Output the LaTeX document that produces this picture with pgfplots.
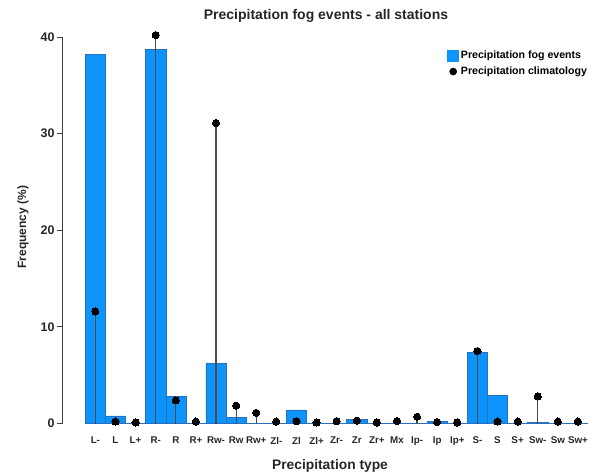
\documentclass[border=0pt]{standalone}
\usepackage{pgfplots}
\pgfplotsset{compat=1.18}
\usepackage{fontspec}
\setmainfont{Liberation Sans}
\definecolor{barblue}{RGB}{12,148,250}
\definecolor{baredge}{RGB}{40,112,190}
\definecolor{stemgray}{RGB}{75,75,75}
\definecolor{basegray}{RGB}{175,175,175}
\begin{document}
\begin{tikzpicture}[x=1pt,y=1pt]
\path[use as bounding box] (0,0) rectangle (597,475);
\begin{axis}[
  at={(62pt,51.5pt)}, anchor=south west,
  scale only axis, width=528pt, height=386.5pt,
  xmin=-1.66, xmax=24.6, ymin=0, ymax=40,
  axis lines=left, axis line style={-, line width=0.8pt, black!75},
  x axis line style={draw=none},
  clip=false,
  xtick={0,...,24},
  xticklabels={L-,L,L+,R-,R,R+,Rw-,Rw,Rw+,Zl-,Zl,Zl+,Zr-,Zr,Zr+,Mx,Ip-,Ip,Ip+,S-,S,S+,Sw-,Sw,Sw+},
  x tick style={draw=none},
  x tick label style={font=\bfseries\fontsize{9.8}{10}\selectfont, yshift=-5pt, text=black!85},
  ytick={0,10,20,30,40},
  y tick style={black!75, line width=0.8pt},
  tick align=outside, major tick length=5pt,
  y tick label style={font=\bfseries\fontsize{12.5}{13}\selectfont, xshift=1pt, text=black!85},
  /pgf/number format/assume math mode=true,
  title={Precipitation fog events - all stations},
  title style={at={(axis description cs:0.5,1.039)}, anchor=center, font=\bfseries\fontsize{14}{15}\selectfont, text=black!85},
  xlabel={Precipitation type},
  xlabel style={at={(axis description cs:0.5076,-0.11)}, anchor=center, font=\bfseries\fontsize{13.8}{15}\selectfont, text=black!85},
  ylabel={Frequency (\%)},
  ylabel style={at={(axis description cs:-0.0739,0.508)}, anchor=center, font=\bfseries\fontsize{12}{13}\selectfont, text=black!85},
  legend style={at={(axis cs:17.5,38.8)}, anchor=north west, draw=none, fill=none,
    font=\bfseries\fontsize{10.6}{12}\selectfont, row sep=3pt, inner sep=0pt,
    /tikz/every even column/.append style={column sep=4pt}},
  legend cell align=left,
]
\draw[basegray, line width=0.9pt] (axis cs:-0.5,0) -- (axis cs:24.5,0);
\addplot[ybar, bar width=1, fill=barblue, draw=baredge, line width=0.5pt,
  legend image code/.code={\fill[barblue] (0pt,-5.5pt) rectangle (11pt,5.5pt);}]
  coordinates {
  (0,38.2) (1,0.8) (2,0) (3,38.7) (4,2.8) (5,0) (6,6.2) (7,0.65) (8,0)
  (9,0) (10,1.4) (11,0) (12,0) (13,0.4) (14,0) (15,0) (16,0) (17,0.25)
  (18,0) (19,7.4) (20,2.9) (21,0) (22,0.12) (23,0) (24,0)
  };
\addlegendentry{Precipitation fog events}
\addplot[ycomb, draw=stemgray, line width=1.2pt,
  mark=*, mark size=3.6pt, mark options={fill=black, draw=black, line width=0pt},
  legend image code/.code={\fill[black] (5.5pt,0pt) circle (3.2pt);}]
  coordinates {
  (0,11.6) (1,0.2) (2,0.1) (3,40.2) (4,2.4) (5,0.2) (6,31.1) (7,1.85) (8,1.1)
  (9,0.2) (10,0.25) (11,0.1) (12,0.25) (13,0.3) (14,0.1) (15,0.25) (16,0.7)
  (17,0.15) (18,0.1) (19,7.5) (20,0.2) (21,0.2) (22,2.8) (23,0.2) (24,0.2)
  };
\addlegendentry{Precipitation climatology}
\end{axis}
\end{tikzpicture}
\end{document}
